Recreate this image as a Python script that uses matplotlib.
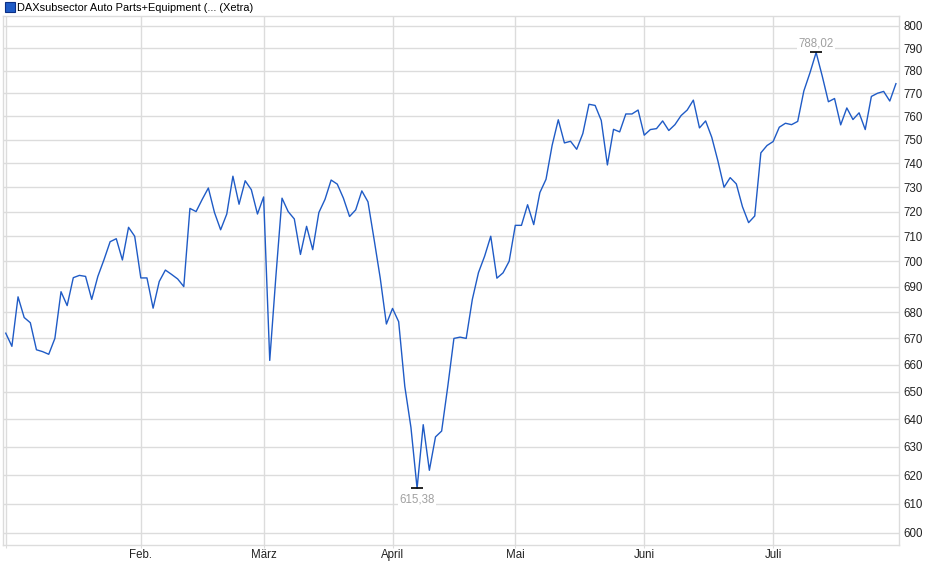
import matplotlib.pyplot as plt
import numpy as np
from matplotlib.lines import Line2D
from matplotlib.ticker import FixedLocator, FixedFormatter, NullLocator

plt.rcParams['font.family'] = ['Liberation Sans', 'DejaVu Sans']

title = 'DAXsubsector Auto Parts+Equipment (... (Xetra)'

# daily closes, 2 Jan .. end of July (one value per trading day)
closes = [
    672, 667, 686, 678, 676, 665.7, 665, 664, 670, 688,
    682.6, 693.5, 694.4, 694, 685, 694, 700.6, 707.8, 709, 700.5,
    713.6, 710, 693.4, 693.4, 681.6, 692, 696.5, 694.8, 693, 690,
    721.3, 720, 725, 729.7, 719.6, 712.6, 719, 734.6, 723, 732.7,
    729, 719, 726, 661.7, 694, 725.5, 720, 717, 702.7, 714,
    704.6, 719.6, 725, 733, 731.3, 725.5, 718, 720.7, 728.5, 724,
    708.7, 693.3, 675.5, 681.5, 676.4, 652, 637, 615.38, 638, 621.7,
    633.6, 635.7, 652, 670, 670.5, 670, 685, 695.5, 702, 710,
    693.3, 695.4, 700, 714.4, 714.4, 722.8, 714.7, 727.8, 733.3, 747.6,
    758.5, 748.6, 749.3, 745.9, 752.6, 765.2, 764.7, 758.2, 739.3, 754.4,
    753.3, 761, 761, 762.7, 751.9, 754.3, 754.7, 758, 753.9, 756.4,
    760.3, 762.7, 767, 755, 758, 751, 741, 730, 734, 731.4,
    722, 715.5, 718.2, 744.4, 747.5, 749.2, 755.3, 757, 756.4, 757.8,
    771, 779, 788.02, 777.5, 766.3, 767.7, 756.3, 763.6, 758.6, 761.5,
    754.3, 768.6, 770, 770.8, 766.6, 774.2,
]

# index of the first trading day of each month
month_pos = [0, 22, 42, 63, 83, 104, 125]
month_names = ['', 'Feb.', 'März', 'April', 'Mai', 'Juni', 'Juli']
y_ticks = list(range(600, 801, 10))

line_col = '#1f5bc6'
grid_col = '#dcdcdc'

fig = plt.figure(figsize=(9.4, 5.79), dpi=100)
ax = fig.add_axes([3 / 940, 34 / 579, 896 / 940, 529 / 579])

x = np.arange(len(closes))
ax.plot(x, closes, color=line_col, lw=1.0)

ax.set_yscale('log')
ax.set_ylim(595.9, 804.5)
ax.set_xlim(-0.45, 145.5)

ax.yaxis.set_major_locator(FixedLocator(y_ticks))
ax.yaxis.set_major_formatter(FixedFormatter([str(v) for v in y_ticks]))
ax.yaxis.set_minor_locator(NullLocator())
ax.yaxis.tick_right()
ax.tick_params(axis='y', length=0, pad=3, labelsize=8.3, labelcolor='#222222')

ax.set_xticks(month_pos)
ax.set_xticklabels(month_names)
ax.tick_params(axis='x', length=2, color=grid_col, pad=1, labelsize=8.3, labelcolor='#222222')

ax.grid(True, color=grid_col, lw=1.0)
ax.set_axisbelow(True)
for s in ax.spines.values():
    s.set_color(grid_col)
    s.set_linewidth(1.0)

# high / low markers
i_max = int(np.argmax(closes))
i_min = int(np.argmin(closes))
for i, dy in [(i_max, 9), (i_min, -11)]:
    ax.plot(i, closes[i], marker='_', color='black', markersize=8, markeredgewidth=1.2)
    ax.annotate(f'{closes[i]:.2f}'.replace('.', ','), (i, closes[i]),
                xytext=(0, dy), textcoords='offset pixels', ha='center', va='center',
                fontsize=8.3, color='#a0a0a0',
                bbox=dict(boxstyle='square,pad=0.15', fc='white', ec='none'))

handle = Line2D([], [], marker='s', linestyle='none', markersize=6.5,
                markerfacecolor=line_col, markeredgecolor='#0b2f85', markeredgewidth=0.8)
fig.legend([handle], [title], loc='upper left', bbox_to_anchor=(0.0005, 1.002),
           frameon=False, handletextpad=0.15, handlelength=1.0, fontsize=7.9,
           borderaxespad=0)

fig.savefig('out.png', dpi=100)
